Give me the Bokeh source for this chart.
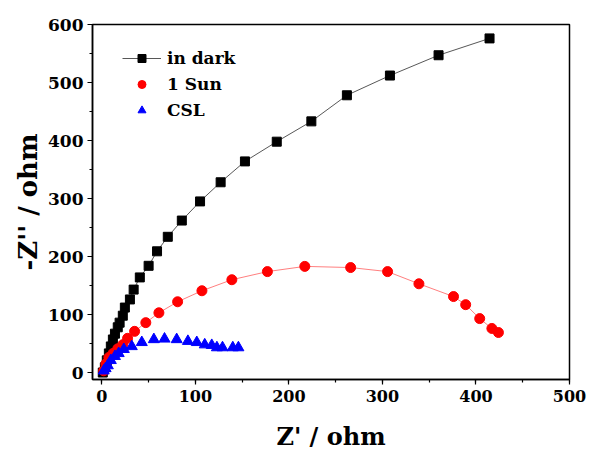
from bokeh.plotting import figure
from bokeh.models import Range1d, FixedTicker, Legend, LegendItem
from bokeh.embed import file_html
from bokeh.resources import INLINE

# ---- data ----
dark_x = [1, 3.2, 5.3, 7.5, 9.6, 11.8, 14, 17, 19, 22.4, 24.6, 30, 34, 40.6, 50, 59,
          70.5, 85.5, 105, 127, 153, 187, 224, 262, 308, 360, 414.5]
dark_y = [0, 9, 21, 33, 45, 57, 67, 78, 86, 98, 112, 126, 143, 164, 184, 209,
          234, 262, 295, 328, 364, 398, 433, 478, 512, 547, 576]

sun_x = [2, 4.3, 7.5, 12, 17, 22.4, 27.5, 35, 47, 61, 81, 107, 139, 177, 217, 266,
         305.5, 339, 376, 389, 404, 417, 424]
sun_y = [3, 15, 26, 33, 41, 48, 59, 71, 86, 103, 122, 141, 160, 174, 183, 181,
         174, 153, 131, 117, 93, 76, 69]

csl_x = [2, 4, 6.4, 9.6, 14, 18, 23.5, 32, 42.7, 55.6, 67, 80, 92, 101.5, 110,
         117.5, 123, 129, 140, 146]
csl_y = [3, 7, 12, 21, 28, 33, 40, 45, 52, 57, 58, 57, 54, 52, 48, 47, 43, 43, 43, 43]

series_names = ["in dark", "1 Sun", "CSL"]
x_major = [0, 100, 200, 300, 400, 500]
x_minor = [0, 50, 100, 150, 200, 250, 300, 350, 400, 450, 500]
y_major = [0, 100, 200, 300, 400, 500, 600]
y_minor = [0, 50, 100, 150, 200, 250, 300, 350, 400, 450, 500, 550, 600]
x_title = "Z' / ohm"
y_title = "-Z'' / ohm"

FONT = "DejaVu Serif"

p = figure(width=592, height=454, output_backend="svg", toolbar_location=None,
           x_range=Range1d(-10, 500), y_range=Range1d(-12, 600),
           min_border_left=92, min_border_right=23, min_border_top=24,
           min_border_bottom=75)

p.xgrid.visible = False
p.ygrid.visible = False
p.outline_line_color = "black"
p.outline_line_width = 1.5
p.outline_line_alpha = 1.0
p.background_fill_color = "white"
p.border_fill_color = "white"

for ax, maj, mnr in ((p.xaxis[0], x_major, x_minor), (p.yaxis[0], y_major, y_minor)):
    ax.ticker = FixedTicker(ticks=maj, minor_ticks=mnr)
    ax.axis_line_color = "black"
    ax.axis_line_width = 1.5
    ax.major_tick_line_color = "black"
    ax.major_tick_line_width = 1.2
    ax.minor_tick_line_color = "black"
    ax.minor_tick_line_width = 1.2
    ax.major_tick_in = 0
    ax.minor_tick_in = 0
    ax.major_tick_out = 5
    ax.minor_tick_out = 3
    ax.major_label_text_font = FONT
    ax.major_label_text_font_style = "bold"
    ax.major_label_text_color = "black"
    ax.axis_label_text_font = FONT
    ax.axis_label_text_font_style = "bold"
    ax.axis_label_text_color = "black"

p.xaxis.major_label_text_font_size = "16px"
p.yaxis.major_label_text_font_size = "17px"
p.xaxis.major_label_standoff = 5
p.yaxis.major_label_standoff = 4

p.xaxis.axis_label = x_title
p.xaxis.axis_label_text_font_size = "24px"
p.xaxis.axis_label_standoff = 17

p.yaxis.axis_label = y_title
p.yaxis.axis_label_text_font_size = "26px"
p.yaxis.axis_label_standoff = 2

# ---- series ----
dl = p.line(dark_x, dark_y, line_color="#444444", line_width=0.9)
ds = p.scatter(dark_x, dark_y, marker="square", size=9, fill_color="black",
               line_color="black")
p.line(sun_x, sun_y, line_color="#ff4040", line_width=0.9, line_alpha=0.75)
ss = p.scatter(sun_x, sun_y, marker="circle", size=10, fill_color="#ff0000",
               line_color="#ff0000")
cs = p.scatter(csl_x, csl_y, marker="triangle", size=11, fill_color="#0000ff",
               line_color="#0000ff")

legend = Legend(items=[LegendItem(label=series_names[0], renderers=[dl, ds]),
                       LegendItem(label=series_names[1], renderers=[ss]),
                       LegendItem(label=series_names[2], renderers=[cs])],
                location=(30, 259))
legend.border_line_alpha = 0
legend.background_fill_alpha = 0
legend.padding = 0
legend.margin = 0
legend.spacing = 6
legend.glyph_width = 39
legend.glyph_height = 20
legend.label_height = 20
legend.label_standoff = 6
legend.label_text_font = FONT
legend.label_text_font_style = "bold"
legend.label_text_font_size = "17px"
legend.label_text_color = "black"
p.add_layout(legend, "center")

open("out.html", "w").write(file_html(p, INLINE))
